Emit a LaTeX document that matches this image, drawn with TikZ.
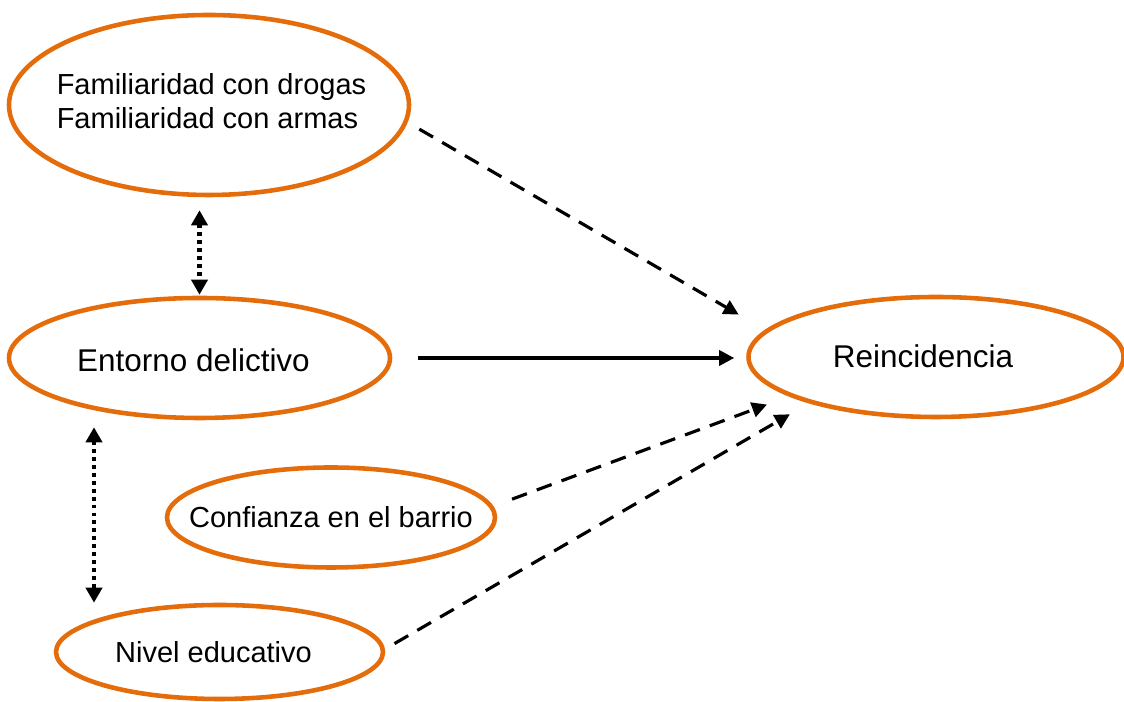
\documentclass[tikz,border=0pt]{standalone}
\usepackage{fontspec}
\setmainfont{Liberation Sans}
\usetikzlibrary{shapes.geometric,arrows.meta}
\definecolor{naranja}{RGB}{228,108,10}
\tikzset{ % common looks of the diagram
	bubble/.style={ellipse, draw=naranja, line width=2.6pt, inner sep=0pt}, % orange ellipses
	texto/.style={font=\fontsize{16.5}{19}\selectfont, align=left},
	textogrande/.style={font=\fontsize{17.9}{21}\selectfont},
	punta/.style={-{Triangle[length=0.3cm,width=0.3cm]}}, % arrow tip
	discontinua/.style={punta, line width=1.8pt, dash pattern=on 9pt off 6pt},
	continua/.style={punta, line width=1.9pt},
	punteada/.style={{Triangle[length=0.3cm,width=0.32cm]}-{Triangle[length=0.3cm,width=0.32cm]},
		line width=2.3pt, dash pattern=on 2.2pt off 2.3pt}
}
\begin{document}
\begin{tikzpicture}
		\useasboundingbox (0,0) rectangle (22.48,14.04);
		% Draw ellipses
		\node[bubble, minimum width=8cm, minimum height=3.6cm,
			label={[texto, xshift=0.05cm, yshift=0.08cm]center:Familiaridad con drogas\\Familiaridad con armas}] (fam) at (4.18,11.94) {};
		\node[bubble, minimum width=7.62cm, minimum height=2.4cm,
			label={[textogrande, xshift=-0.12cm, yshift=-0.04cm]center:Entorno delictivo}] (entorno) at (3.99,6.88) {};
		\node[bubble, minimum width=7.5cm, minimum height=2.4cm,
			label={[textogrande, xshift=-0.26cm, yshift=0.02cm]center:Reincidencia}] (reinc) at (18.72,6.90) {};
		\node[bubble, minimum width=6.56cm, minimum height=2cm,
			label={[texto]center:Confianza en el barrio}] (confianza) at (6.62,3.69) {};
		\node[bubble, minimum width=6.54cm, minimum height=1.88cm,
			label={[texto, xshift=-0.12cm]center:Nivel educativo}] (nivel) at (4.39,1.0) {};
		% Draw arrows to Reincidencia
		\draw[discontinua, shorten <=0.27cm, shorten >=0.61cm] (fam.-5) -- (reinc.171);
		\draw[continua, shorten <=0.52cm, shorten >=0.24cm] (entorno.east) -- (entorno.east -| reinc.west);
		\draw[discontinua, shorten <=0.4cm, shorten >=0.47cm] (confianza.4) -- (reinc.195);
		\draw[discontinua, shorten <=0.22cm, shorten >=0.44cm] (nivel.1) -- (reinc.200);
		% Draw dotted double arrows
		\draw[punteada, shorten <=0.26cm, shorten >=0.02cm] (entorno.north |- fam.south) -- (entorno.north);
		\draw[punteada, shorten <=0.14cm] ([xshift=-2.11cm]entorno.south) -- ([xshift=-2.11cm]entorno.south |- nivel.north);
\end{tikzpicture}
\end{document}
